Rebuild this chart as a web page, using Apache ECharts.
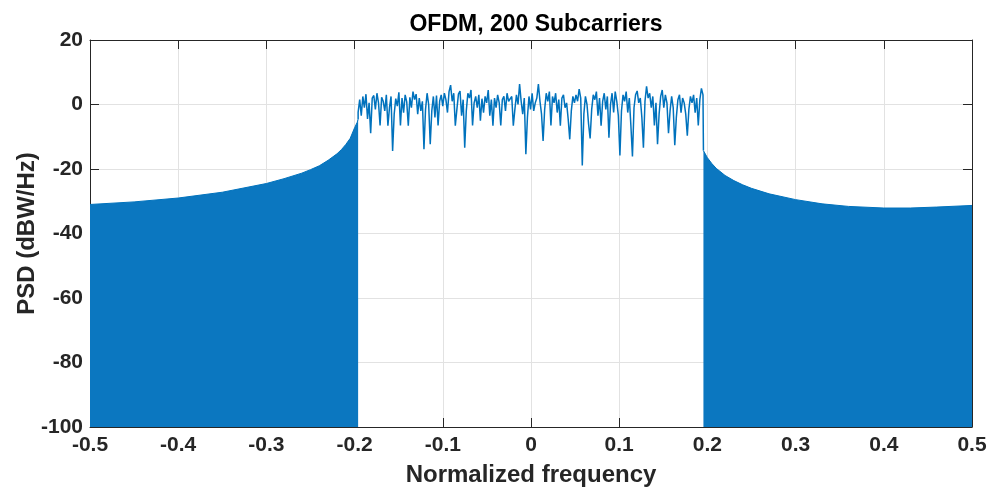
<!DOCTYPE html>
<html>
<head>
<meta charset="utf-8">
<script src="https://cdn.jsdelivr.net/npm/echarts@6/dist/echarts.min.js"></script>
<style>
html,body{margin:0;padding:0;background:#fff;}
#chart{width:989px;height:487px;}
</style>
</head>
<body>
<div id="chart"></div>
<script>
// ---- Data ----
const titleText = "OFDM, 200 Subcarriers";
const xName = "Normalized frequency";
const yName = "PSD (dBW/Hz)";

// Left out-of-band envelope (normalized frequency, dB)
const leftEnvF = [-0.5, -0.45, -0.4, -0.35, -0.3, -0.28, -0.26, -0.25, -0.24, -0.23, -0.22, -0.215, -0.21, -0.205, -0.2, -0.197, -0.196];
const leftEnvP = [-31.0, -30.2, -29.0, -27.2, -24.5, -23.0, -21.3, -20.2, -19.0, -17.3, -15.3, -14.0, -12.4, -10.5, -7.2, -5.5, -4.5];

// Right out-of-band envelope
const rightEnvF = [0.1955, 0.2, 0.205, 0.21, 0.22, 0.23, 0.24, 0.25, 0.27, 0.3, 0.33, 0.36, 0.4, 0.43, 0.46, 0.5];
const rightEnvP = [-14.3, -16.5, -18.3, -19.8, -22.0, -23.6, -24.9, -26.0, -27.7, -29.5, -30.8, -31.6, -32.1, -32.1, -31.8, -31.3];

// In-band PSD (evenly spaced bins from -0.196 to 0.195)
const inbandStart = -0.196, inbandEnd = 0.195;
const inbandP = [
 -2.4, 1.5, -3.5, 2.5, -1.0, 3.2, -4.5, 0.5, -8.9, 2.0,
 2.8, -1.5, 3.5, 0.5, -6.5, 2.2, 1.0, -2.0, 3.0, -6.6,
 -1.0, 2.5, -14.4, -3.0, 1.8, -0.5, 3.8, -6.5, 2.0, -2.5,
 3.0, 0.8, -6.6, 2.2, -1.0, 4.0, 1.5, 3.2, -3.0, 2.0,
 -2.0, 1.0, -13.9, -1.5, 3.5, 0.0, -12.3, -2.0, 2.5, -4.0,
 2.8, -6.5, 1.0, 3.0, -0.5, 3.5, 1.5, -2.5, 4.0, 6.0,
 1.0, 3.5, -6.6, -1.5, 3.2, 4.2, -3.5, 1.5, -13.4, -2.0,
 3.5, 2.0, 4.5, -6.5, 0.5, 2.5, -1.0, 3.0, -5.0, 1.8,
 -2.5, 2.5, 0.5, 4.5, -3.5, 1.5, -6.6, 2.0, -1.0, 3.0,
 0.5, -6.5, 1.5, 2.5, -2.0, 3.5, 1.0, 0.5, 2.5, -6.6,
 -1.5, 3.0, 0.0, 6.3, 1.0, -3.0, 2.0, -15.4, -4.0, 2.5,
 -1.5, 3.5, -2.0, 0.5, 2.0, 6.3, 1.0, -3.0, -11.3, -1.5,
 3.5, 1.0, 4.0, -6.5, 2.5, 0.5, 3.5, -2.5, 1.5, -6.6,
 2.0, 3.0, -1.0, 0.5, -4.5, -10.8, -2.0, 2.5, 0.5, 3.0,
 1.0, 4.8, 2.0, -18.9, -3.0, 2.5, 0.0, -6.0, -10.5, -1.5,
 3.0, 1.5, 4.0, -3.5, 2.0, -6.6, 1.0, 3.5, -1.5, 2.5,
 -10.3, 0.0, 3.5, -2.5, 4.0, 1.0, -3.5, -15.8, -2.0, 3.0,
 1.0, 4.0, -2.5, 2.0, -6.5, -16.1, -1.0, 3.0, 4.2, 0.5,
 2.0, -4.0, -13.4, 1.0, 5.6, 2.0, 3.5, -1.0, 2.5, -6.5,
 0.5, -12.3, -3.0, 2.5, 4.5, -1.0, 3.0, 0.5, -8.9, -2.0,
 2.5, -1.0, -12.6, -4.0, 1.5, 3.0, -2.5, 2.0, 0.5, -3.0,
 -9.7, -1.5, 2.5, 0.5, 3.0, -2.5, 2.0, -6.5, 1.5, 5.0,
 3.0
];

// Axis ticks
const xMin = -0.5, xMax = 0.5, xStep = 0.1;
const yMin = -100, yMax = 20, yStep = 20;

// ---- Build series data ----
const leftData = leftEnvF.map((f, i) => [f, leftEnvP[i]]);
const rightData = rightEnvF.map((f, i) => [f, rightEnvP[i]]);
const nIn = inbandP.length;
const midData = inbandP.map((p, i) => [inbandStart + (inbandEnd - inbandStart) * i / (nIn - 1), p]);
midData.unshift([leftEnvF[leftEnvF.length - 1], leftEnvP[leftEnvP.length - 1]]);
midData.push([rightEnvF[0], rightEnvP[0]]);

const blue = '#0072BD';
const txt = '#262626';
const font = "'Liberation Sans', Arial, Helvetica, sans-serif";

const chart = echarts.init(document.getElementById('chart'), null, {renderer: 'canvas'});

const baseX = {
  type: 'value', min: xMin, max: xMax, interval: xStep,
  axisLine: {show: true, onZero: false, lineStyle: {color: txt, width: 1}},
  axisTick: {show: true, inside: true, length: 9, lineStyle: {color: txt}},
};
const baseY = {
  type: 'value', min: yMin, max: yMax, interval: yStep,
  axisLine: {show: true, onZero: false, lineStyle: {color: txt, width: 1}},
  axisTick: {show: true, inside: true, length: 9, lineStyle: {color: txt}},
};

chart.setOption({
  animation: false,
  backgroundColor: '#ffffff',
  title: {
    text: titleText, left: 531, top: 8, textAlign: 'center',
    textStyle: {fontFamily: font, fontWeight: 'bold', fontSize: 23, color: '#000'}
  },
  grid: {left: 90, right: 17, top: 40, bottom: 60, containLabel: false, outerBoundsMode: 'none'},
  xAxis: [
    Object.assign({}, baseX, {
      position: 'bottom',
      name: xName, nameLocation: 'middle', nameGap: 36, nameMoveOverlap: false,
      nameTextStyle: {fontFamily: font, fontWeight: 'bold', fontSize: 24, color: txt},
      axisLabel: {show: true, margin: 8, fontFamily: font, fontWeight: 'bold', fontSize: 21, color: txt,
        formatter: v => String(Math.round(v * 10) / 10)},
      splitLine: {show: true, lineStyle: {color: '#e2e2e2', width: 1}}
    }),
    Object.assign({}, baseX, {
      position: 'top', axisLabel: {show: false}, splitLine: {show: false}
    })
  ],
  yAxis: [
    Object.assign({}, baseY, {
      position: 'left',
      name: yName, nameLocation: 'middle', nameGap: 51, nameRotate: 90, nameMoveOverlap: false,
      nameTextStyle: {fontFamily: font, fontWeight: 'bold', fontSize: 24, color: txt},
      axisLabel: {show: true, margin: 7, fontFamily: font, fontWeight: 'bold', fontSize: 21, color: txt},
      splitLine: {show: true, lineStyle: {color: '#e2e2e2', width: 1}}
    }),
    Object.assign({}, baseY, {
      position: 'right', axisLabel: {show: false}, splitLine: {show: false}
    })
  ],
  series: [
    {
      type: 'line', data: leftData, xAxisIndex: 0, yAxisIndex: 0,
      showSymbol: false, symbol: 'none',
      lineStyle: {color: blue, width: 1},
      areaStyle: {color: '#0b77c0', opacity: 1, origin: 'start'},
      z: 2
    },
    {
      type: 'line', data: midData, xAxisIndex: 0, yAxisIndex: 0,
      showSymbol: false, symbol: 'none',
      lineStyle: {color: blue, width: 1.5},
      z: 3
    },
    {
      type: 'line', data: rightData, xAxisIndex: 0, yAxisIndex: 0,
      showSymbol: false, symbol: 'none',
      lineStyle: {color: blue, width: 1},
      areaStyle: {color: '#0b77c0', opacity: 1, origin: 'start'},
      z: 2
    }
  ]
});
</script>
</body>
</html>
